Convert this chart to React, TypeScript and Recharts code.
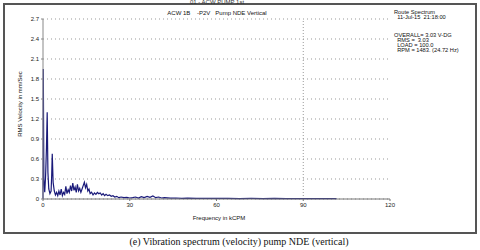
import React from 'react';
import { LineChart, Line, XAxis, YAxis, CartesianGrid, ReferenceLine } from 'recharts';

// frequency in kCPM
const freqKcpm = [
  0, 0.1, 0.3, 0.6, 0.9, 1.2, 1.45, 1.7, 2.0, 2.4, 2.8, 3.0, 3.2, 3.5, 3.9, 4.3, 4.7, 5.1, 5.5, 5.9,
  6.3, 6.7, 7.1, 7.5, 7.9, 8.3, 8.7, 9.1, 9.5, 9.9, 10.3, 10.7, 11.1, 11.5, 11.9, 12.3, 12.7, 13.1, 13.5, 13.9,
  14.3, 14.7, 15.1, 15.5, 15.9, 16.3, 16.8, 17.3, 17.8, 18.3, 18.8, 19.3, 19.8, 20.3, 20.8, 21.3, 21.8, 22.4, 23, 23.6,
  24.2, 24.8, 25.5, 26.2, 27, 28, 29, 30, 31, 32, 33, 34, 35, 36, 37, 38, 39, 40, 41, 42,
  44, 46, 48, 50, 53, 56, 60, 64, 68, 72, 76, 80, 84, 88, 92, 96, 100, 101.5,
];

// RMS velocity in mm/Sec
const rmsVelocity = [
  0, 1.95, 0.3, 0.1, 0.35, 0.77, 1.3, 0.4, 0.15, 0.08, 0.12, 0.35, 0.68, 0.25, 0.12, 0.06, 0.1, 0.05, 0.12, 0.06,
  0.15, 0.05, 0.1, 0.07, 0.19, 0.08, 0.14, 0.1, 0.2, 0.12, 0.24, 0.13, 0.18, 0.1, 0.22, 0.12, 0.16, 0.1, 0.15, 0.2,
  0.25, 0.17, 0.22, 0.12, 0.15, 0.08, 0.1, 0.06, 0.09, 0.07, 0.1, 0.08, 0.09, 0.06, 0.08, 0.05, 0.07, 0.05, 0.06, 0.04,
  0.05, 0.03, 0.04, 0.02, 0.03, 0.02, 0.025, 0.015, 0.02, 0.03, 0.015, 0.035, 0.02, 0.04, 0.025, 0.045, 0.02, 0.03, 0.015, 0.02,
  0.012, 0.015, 0.01, 0.012, 0.008, 0.01, 0.008, 0.01, 0.007, 0.008, 0.006, 0.008, 0.006, 0.007, 0.006, 0.006, 0.005, 0.005,
];

const xTicks = [0, 30, 60, 90, 120];
const yTicks = [0, 0.3, 0.6, 0.9, 1.2, 1.5, 1.8, 2.1, 2.4, 2.7];
const yTickLabels = ['0', '0.3', '0.6', '0.9', '1.2', '1.5', '1.8', '2.1', '2.4', '2.7'];

const infoLines = [
  'Route Spectrum',
  '  11-Jul-15  21:18:00',
  '',
  'OVERALL= 3.03 V-DG',
  '  RMS =  3.03',
  '  LOAD = 100.0',
  '  RPM = 1483. (24.72 Hz)',
];

const data = freqKcpm.map((f, i) => ({ f, v: rmsVelocity[i] }));

const font = '"Liberation Sans", Arial, sans-serif';
const tickStyle = { fontSize: 6, fill: '#222', fontFamily: font };

const App: React.FC = () => {
  return (
    <div style={{ position: 'fixed', left: 0, top: 0, width: 480, height: 250, background: '#fff', overflow: 'hidden' }}>
      <div style={{ position: 'absolute', left: 3, top: 3, width: 470, height: 227, border: '2px solid #555' }} />
      <div style={{ position: 'absolute', left: 0, top: -1, width: 434, textAlign: 'center', fontFamily: font, fontSize: 6, color: '#333' }}>
        01 - ACW PUMP 1st
      </div>
      <div style={{ position: 'absolute', left: 0, top: 10, width: 434, textAlign: 'center', fontFamily: font, fontSize: 6, color: '#111', whiteSpace: 'pre' }}>
        {'ACW 1B    -P2V   Pump NDE Vertical'}
      </div>
      <div style={{ position: 'absolute', left: 394, top: 10, fontFamily: font, fontSize: 5.7, lineHeight: '5px', color: '#111', whiteSpace: 'pre' }}>
        {infoLines.map((l, i) => (
          <div key={i} style={{ height: i === 2 ? 13 : 5.1 }}>{l}</div>
        ))}
      </div>
      <div style={{ position: 'absolute', left: 0, top: 215, width: 438, textAlign: 'center', fontFamily: font, fontSize: 6, color: '#111' }}>
        Frequency in kCPM
      </div>
      <div
        style={{
          position: 'absolute', left: 20, top: 104, fontFamily: font, fontSize: 6, color: '#111', whiteSpace: 'nowrap',
          transform: 'translate(-50%, -50%) rotate(-90deg)',
        }}
      >
        RMS Velocity in mm/Sec
      </div>
      <div style={{ position: 'absolute', left: 0, top: 236, width: 478, textAlign: 'center', fontFamily: '"Liberation Serif", "Times New Roman", serif', fontSize: 10, color: '#111' }}>
        (e) Vibration spectrum (velocity) pump NDE (vertical)
      </div>
      <div style={{ position: 'absolute', left: 0, top: 0 }}>
        <LineChart width={480} height={250} data={data} margin={{ top: 19, right: 90, left: 0, bottom: 21 }}>
          <CartesianGrid vertical={false} stroke="#999" strokeDasharray="1 3" />
          <XAxis
            dataKey="f" type="number" domain={[0, 120]} ticks={xTicks} height={30}
            tick={tickStyle} tickSize={2} stroke="#777" interval={0}
          />
          <XAxis
            xAxisId="top" orientation="top" dataKey="f" type="number" domain={[0, 120]} ticks={xTicks} height={0}
            tickFormatter={() => ''} tickSize={2} stroke="#555"
          />
          <YAxis
            type="number" domain={[0, 2.7]} ticks={yTicks} width={43} interval={0}
            tickFormatter={(v: number) => yTickLabels[yTicks.indexOf(v)] ?? ''}
            tick={tickStyle} tickSize={2} stroke="#888"
          />
          <YAxis
            yAxisId="right" orientation="right" type="number" domain={[0, 2.7]} ticks={yTicks} width={0}
            tickFormatter={() => ''} tickSize={2} stroke="#666"
          />
          <ReferenceLine x={90} stroke="#999" strokeDasharray="1 2" />
          <Line type="linear" dataKey="v" stroke="#1a1a7a" strokeWidth={1.2} dot={false} isAnimationActive={false} />
        </LineChart>
      </div>
    </div>
  );
};

export default App;
